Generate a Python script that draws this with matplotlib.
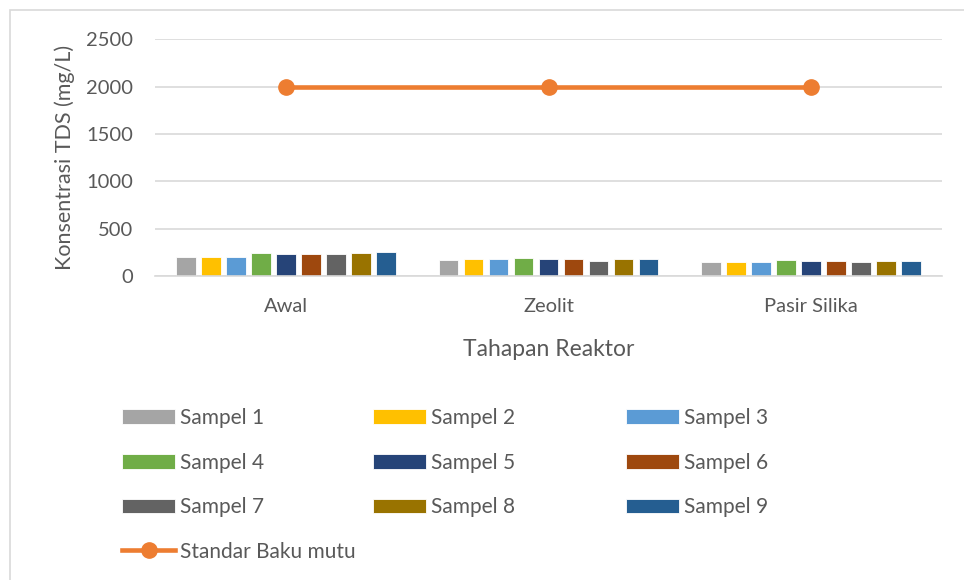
import numpy as np
import matplotlib
matplotlib.use('Agg')
from matplotlib import pyplot as plt
from matplotlib.patches import Rectangle

plt.rcParams['font.family'] = ['Lato', 'DejaVu Sans']

categories = ['Awal', 'Zeolit', 'Pasir Silika']
sample_names = ['Sampel 1', 'Sampel 2', 'Sampel 3', 'Sampel 4', 'Sampel 5',
                'Sampel 6', 'Sampel 7', 'Sampel 8', 'Sampel 9']
awal = [200, 198, 200, 238, 236, 230, 236, 242, 250]
zeolit = [173, 177, 184, 188, 177, 184, 163, 184, 184]
pasir = [152, 152, 149, 173, 159, 159, 145, 156, 156]
standar = [2000, 2000, 2000]
yticks = [0, 500, 1000, 1500, 2000, 2500]

colors = ['#A5A5A5', '#FFC000', '#5B9BD5', '#70AD47', '#264478',
          '#9E480E', '#636363', '#997300', '#255E91']
text_color = '#595959'
grid_color = '#D9D9D9'

W, H = 964, 580
fig = plt.figure(figsize=(W / 100, H / 100), dpi=100)
# chart frame, as in the exported office chart
fig.patches.append(Rectangle((10 / W, -0.1), 1.2, 1 - 10 / H + 0.1, transform=fig.transFigure,
                             fill=False, edgecolor=grid_color, lw=1.2))

ax = fig.add_axes([155 / W, 1 - 276 / H, 787 / W, (276 - 39.3) / H])

values = np.array([awal, zeolit, pasir]).T
x = np.arange(len(categories))
pitch = 0.0953
width = 0.0745
bars = []
for i, (name, col) in enumerate(zip(sample_names, colors)):
    b = ax.bar(x + (i - 4) * pitch, values[i], width, color=col, edgecolor='white',
               linewidth=0.6, label=name, zorder=2)
    bars.append(b)

line, = ax.plot(x, standar, color='#ED7D31', lw=3.3, marker='o', markersize=11,
                label='Standar Baku mutu', zorder=3)

ax.set_xlim(-0.5, 2.5)
ax.set_ylim(0, 2500)
ax.set_yticks(yticks)
ax.set_xticks(x)
ax.set_xticklabels(categories)
ax.grid(axis='y', color=grid_color, lw=1.2, zorder=0)
for s in ['top', 'right', 'left']:
    ax.spines[s].set_visible(False)
ax.spines['bottom'].set_color(grid_color)
ax.spines['bottom'].set_linewidth(1.2)
ax.tick_params(length=0, labelsize=14.5, colors=text_color)
ax.tick_params(axis='y', pad=16)
ax.tick_params(axis='x', pad=16)
ax.set_xlabel('Tahapan Reaktor', fontsize=16.5, color=text_color, labelpad=17)
ax.set_ylabel('Konsentrasi TDS (mg/L)', fontsize=15.5, color=text_color, labelpad=8)

# legend laid out in three fixed columns
cols = [
    ([bars[0], bars[3], bars[6], line], [sample_names[0], sample_names[3], sample_names[6], 'Standar Baku mutu']),
    ([bars[1], bars[4], bars[7]], [sample_names[1], sample_names[4], sample_names[7]]),
    ([bars[2], bars[5], bars[8]], [sample_names[2], sample_names[5], sample_names[8]]),
]
col_x = [122, 373, 626]
for (hs, ls), cx in zip(cols, col_x):
    fig.legend(hs, ls, loc='upper left', bbox_to_anchor=(cx / W, 1 - 408 / H),
               frameon=False, ncol=1, fontsize=15, labelcolor=text_color,
               handlelength=2.55, handleheight=0.7, handletextpad=0.25,
               labelspacing=1.18, borderpad=0, borderaxespad=0)

fig.savefig('out.png', dpi=100)
